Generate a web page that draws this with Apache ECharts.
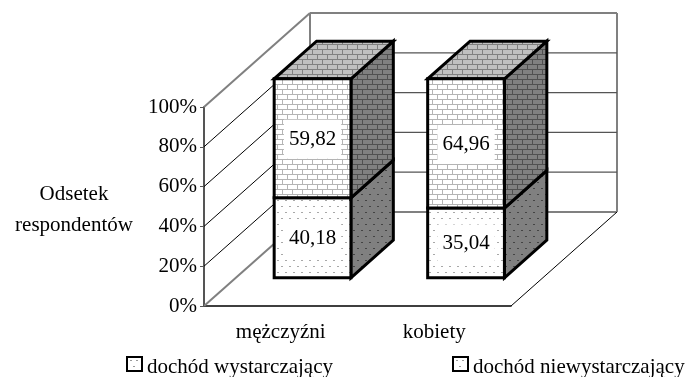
<!DOCTYPE html>
<html>
<head>
<meta charset="utf-8">
<style>html,body{margin:0;padding:0;background:#fff}#chart{width:688px;height:377px}</style>
<script src="https://cdn.jsdelivr.net/npm/echarts@6/dist/echarts.min.js"></script>
</head>
<body>
<div id="chart"></div>
<script>
// values
var categories = ['mężczyźni', 'kobiety'];
var wystarczajacy = [40.18, 35.04];
var niewystarczajacy = [59.82, 64.96];
var yTicks = [0, 20, 40, 60, 80, 100];
var seriesNames = ['dochód wystarczający', 'dochód niewystarczający'];
var yTitle = 'Odsetek\nrespondentów';

var FONT = '"Liberation Serif", "Times New Roman", serif';

// fake 3D: how far the back wall sits from the front plane, in px
var DEPTH_X = 106, DEPTH_Y = -94;
var BAR_FRONT = 0.3, BAR_BACK = 0.7;

function tile(w, h, bg, draw) {
  var c = document.createElement('canvas');
  c.width = w; c.height = h;
  var g = c.getContext('2d');
  g.fillStyle = bg;
  g.fillRect(0, 0, w, h);
  draw(g);
  return { image: c, repeat: 'repeat' };
}
function brick(bg, line) {
  return tile(10, 10, bg, function (g) {
    g.fillStyle = line;
    g.fillRect(0, 4, 10, 1);
    g.fillRect(0, 9, 10, 1);
    g.fillRect(2, 0, 1, 4);
    g.fillRect(7, 5, 1, 4);
  });
}
function dots(bg, dot) {
  return tile(8, 12, bg, function (g) {
    g.fillStyle = dot;
    g.fillRect(1, 2, 2, 1);
    g.fillRect(5, 8, 2, 1);
  });
}

var upperFaces = { front: brick('#ffffff', '#b4b4b4'), side: brick('#808080', '#505050'), top: brick('#c0c0c0', '#808080') };
var lowerFaces = { front: dots('#ffffff', '#a8a8a8'), side: dots('#808080', '#444444'), top: null };

function poly(points, fill, z2) {
  return {
    type: 'polygon',
    z2: z2,
    shape: { points: points },
    style: { fill: fill, stroke: '#000', lineWidth: 3, lineJoin: 'miter' }
  };
}

// one stacked block: value[0] category, value[1] start, value[2] end
function blockRenderer(faces) {
  return function (params, api) {
    var band = api.size([1, 0])[0];
    var base = api.coord([api.value(0), api.value(1)]);
    var head = api.coord([api.value(0), api.value(2)]);
    var fx = DEPTH_X * BAR_FRONT, fy = DEPTH_Y * BAR_FRONT;
    var bx = DEPTH_X * (BAR_BACK - BAR_FRONT), by = DEPTH_Y * (BAR_BACK - BAR_FRONT);
    var x0 = base[0] + fx - band / 4, x1 = base[0] + fx + band / 4;
    var y0 = base[1] + fy, y1 = head[1] + fy;
    var kids = [
      poly([[x1, y0], [x1 + bx, y0 + by], [x1 + bx, y1 + by], [x1, y1]], faces.side, 1),
      poly([[x0, y0], [x1, y0], [x1, y1], [x0, y1]], faces.front, 2)
    ];
    if (faces.top) {
      kids.push(poly([[x0, y1], [x1, y1], [x1 + bx, y1 + by], [x0 + bx, y1 + by]], faces.top, 1));
    }
    kids.push({
      type: 'text',
      z2: 5,
      x: (x0 + x1) / 2,
      y: (y0 + y1) / 2 + 1,
      style: {
        text: api.value(3),
        font: '21px ' + FONT,
        fill: '#000',
        align: 'center',
        verticalAlign: 'middle',
        backgroundColor: '#fff',
        padding: [9, 5, 9, 5]
      }
    });
    return { type: 'group', children: kids };
  };
}

function wallRenderer(params, api) {
  var v = api.value(0);
  var band = api.size([1, 0])[0];
  var p = api.coord([0, v]);
  var left = p[0] - band / 2;
  var right = left + band * categories.length;
  var y = p[1];
  var edge = v === 0 || v === 100;
  var kids = [];
  kids.push({
    type: 'polyline',
    shape: { points: [[left, y], [left + DEPTH_X, y + DEPTH_Y]] },
    style: { stroke: edge ? '#808080' : '#000', lineWidth: edge ? 2 : 1, fill: null }
  });
  kids.push({
    type: 'polyline',
    shape: { points: [[left + DEPTH_X, y + DEPTH_Y], [right + DEPTH_X, y + DEPTH_Y]] },
    style: { stroke: edge ? '#808080' : '#555', lineWidth: edge ? 2 : 1.2, fill: null }
  });
  if (v === 0) {
    var top = api.coord([0, 100])[1];
    kids.push({
      type: 'polyline',
      shape: { points: [[left + DEPTH_X, y + DEPTH_Y], [left + DEPTH_X, top + DEPTH_Y]] },
      style: { stroke: '#808080', lineWidth: 2, fill: null }
    });
    kids.push({
      type: 'polyline',
      shape: { points: [[right + DEPTH_X, y + DEPTH_Y], [right + DEPTH_X, top + DEPTH_Y]] },
      style: { stroke: '#808080', lineWidth: 2, fill: null }
    });
    kids.push({
      type: 'polyline',
      shape: { points: [[right, y], [right + DEPTH_X, y + DEPTH_Y]] },
      style: { stroke: '#000', lineWidth: 1, fill: null }
    });
  }
  return { type: 'group', children: kids };
}

function pl(v) { return v.toFixed(2).replace('.', ','); }

var lowerData = categories.map(function (c, i) {
  return [i, 0, wystarczajacy[i], pl(wystarczajacy[i])];
});
var upperData = categories.map(function (c, i) {
  return [i, wystarczajacy[i], wystarczajacy[i] + niewystarczajacy[i], pl(niewystarczajacy[i])];
});

var legendIcon = tile(14, 14, '#ffffff', function (g) {
  g.fillStyle = '#999';
  g.fillRect(3, 3, 2, 1);
  g.fillRect(9, 3, 2, 1);
  g.fillRect(6, 9, 2, 1);
});

function legendFor(name, left) {
  return {
    left: left,
    top: 356,
    padding: 0,
    itemWidth: 15,
    itemHeight: 14,
    itemGap: 0,
    icon: 'rect',
    data: [name],
    selectedMode: false,
    formatter: '{t|{name}}',
    itemStyle: { color: legendIcon, borderColor: '#000', borderWidth: 2 },
    textStyle: {
      color: '#000',
      rich: { t: { fontFamily: FONT, fontSize: 21, color: '#000', padding: [6, 0, 0, 0] } }
    }
  };
}

var myChart = echarts.init(document.getElementById('chart'));
myChart.setOption({
  animation: false,
  backgroundColor: '#fff',
  grid: { left: 204, top: 107, width: 307, height: 199, outerBoundsMode: 'none' },
  legend: [legendFor(seriesNames[0], 126), legendFor(seriesNames[1], 452)],
  graphic: [{
    type: 'text',
    x: 74,
    y: 209.5,
    style: {
      text: yTitle,
      font: '21px ' + FONT,
      fill: '#000',
      align: 'center',
      verticalAlign: 'middle',
      lineHeight: 31
    }
  }],
  xAxis: {
    type: 'category',
    data: categories,
    axisLine: { lineStyle: { color: '#000', width: 1.5 } },
    axisTick: { length: 6, lineStyle: { color: '#333', width: 1 } },
    axisLabel: { fontFamily: FONT, fontSize: 21, color: '#000', margin: 16 }
  },
  yAxis: {
    type: 'value',
    min: 0,
    max: 100,
    interval: 20,
    splitLine: { show: false },
    axisLine: { show: true, lineStyle: { color: '#555', width: 2 } },
    axisTick: { show: true, length: 4, lineStyle: { color: '#555', width: 1 } },
    axisLabel: { fontFamily: FONT, fontSize: 21, color: '#000', margin: 7, formatter: '{value}%' }
  },
  series: [
    {
      type: 'custom',
      name: 'walls',
      z: 1,
      silent: true,
      renderItem: wallRenderer,
      encode: { y: 0 },
      data: yTicks.map(function (v) { return [v]; })
    },
    {
      type: 'custom',
      name: seriesNames[0],
      z: 2,
      renderItem: blockRenderer(lowerFaces),
      encode: { x: 0, y: [1, 2] },
      itemStyle: { color: legendIcon },
      data: lowerData
    },
    {
      type: 'custom',
      name: seriesNames[1],
      z: 3,
      renderItem: blockRenderer(upperFaces),
      encode: { x: 0, y: [1, 2] },
      itemStyle: { color: legendIcon },
      data: upperData
    }
  ]
});
</script>
</body>
</html>
